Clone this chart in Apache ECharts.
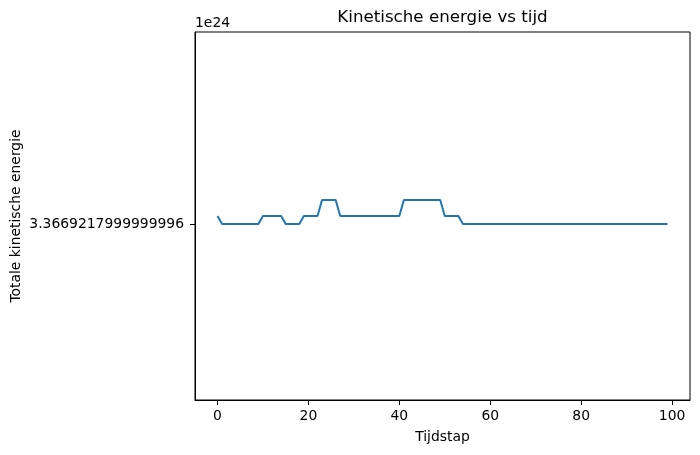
<!DOCTYPE html>
<html>
<head>
<meta charset="utf-8">
<script src="https://cdn.jsdelivr.net/npm/echarts@6/dist/echarts.min.js"></script>
<style>html,body{margin:0;padding:0;background:#fff}#c{width:700px;height:455px}</style>
</head>
<body>
<div id="c"></div>
<script>
// Time steps
const tijdstap = Array.from({length: 100}, (_, i) => i);
// Kinetic energy, expressed as offset (in smallest representable steps) above the base value 3.3669217999999996e24
const energieOffset = [
  1,
  0,0,0,0,0,0,0,0,0,
  1,1,1,1,1,
  0,0,0,0,
  1,1,1,1,
  3,3,3,3,
  1,1,1,1,1,1,1,1,1,1,1,1,1,1,
  3,3,3,3,3,3,3,3,3,
  1,1,1,1,
  0,0,0,0,0,0,0,0,0,0,0,0,0,0,0,0,0,0,0,0,0,0,0,0,0,0,0,0,0,0,0,0,0,0,0,0,0,0,0,0,0,0,0,0,0,0
];
const xTicks = [0, 20, 40, 60, 80, 100];
const yTicks = [0];
const yTickLabels = ['3.3669217999999996'];
const offsetText = '1e24';
const titleText = 'Kinetische energie vs tijd';
const xLabel = 'Tijdstap';
const yLabel = 'Totale kinetische energie';

const font = 'DejaVu Sans';
const chart = echarts.init(document.getElementById('c'), null, {renderer: 'canvas'});
chart.setOption({
  animation: false,
  backgroundColor: '#fff',
  grid: {left: 195, right: 10, top: 32, bottom: 55, show: true, borderColor: '#000', borderWidth: 1, containLabel: false},
  xAxis: {
    type: 'value', min: -4.95, max: 103.95,
    axisLine: {show: true, onZero: false, lineStyle: {color: '#000', width: 1}},
    axisTick: {show: true, length: 5, customValues: xTicks, lineStyle: {color: '#000'}},
    axisLabel: {customValues: xTicks, margin: 9, color: '#000', fontSize: 13.9, fontFamily: font},
    splitLine: {show: false},
    name: xLabel, nameLocation: 'middle', nameGap: 30,
    nameTextStyle: {color: '#000', fontSize: 13.9, fontFamily: font}
  },
  yAxis: {
    type: 'value', min: -22, max: 24,
    axisLine: {show: true, onZero: false, lineStyle: {color: '#000', width: 1}},
    axisTick: {show: true, length: 5, customValues: yTicks, lineStyle: {color: '#000'}},
    axisLabel: {customValues: yTicks, margin: 11, color: '#000', fontSize: 13.9, fontFamily: font,
      formatter: v => { const k = yTicks.indexOf(v); return k >= 0 ? yTickLabels[k] : ''; }},
    splitLine: {show: false}
  },
  graphic: [
    {type: 'text', x: 442.5, y: 17.5, style: {text: titleText, fill: '#000', font: '16.7px "DejaVu Sans"', align: 'center', verticalAlign: 'middle'}},
    {type: 'text', x: 195, y: 23.5, style: {text: offsetText, fill: '#000', font: '13.9px "DejaVu Sans"', align: 'left', verticalAlign: 'middle'}},
    {type: 'text', x: 16, y: 216, rotation: Math.PI / 2, style: {text: yLabel, fill: '#000', font: '13.9px "DejaVu Sans"', align: 'center', verticalAlign: 'middle'}}
  ],
  series: [{
    type: 'line',
    data: tijdstap.map((t, i) => [t, energieOffset[i]]),
    showSymbol: false,
    lineStyle: {color: '#1f77b4', width: 2},
    itemStyle: {color: '#1f77b4'}
  }]
});
</script>
</body>
</html>
